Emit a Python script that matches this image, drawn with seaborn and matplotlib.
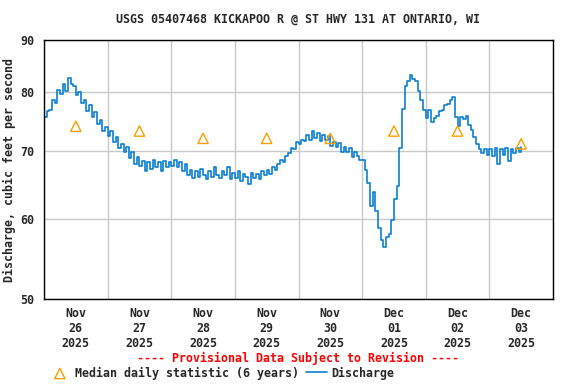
import matplotlib
matplotlib.use("Agg")
import matplotlib.pyplot as plt
import matplotlib.dates as mdates
import seaborn as sns
import pandas as pd

# hourly discharge, cfs, starting 2025-11-26 00:00
q_nov26 = [75.5, 76.6, 76.8, 78.6, 78.0, 80.4, 79.6, 81.4, 80.2, 82.6, 81.4, 81.0,
           79.4, 80.0, 78.0, 78.6, 76.6, 77.6, 75.6, 76.4, 74.4, 75.0, 73.2, 73.8]
q_nov27 = [72.4, 73.2, 71.4, 72.2, 70.4, 71.0, 69.8, 70.6, 68.8, 69.8, 68.0, 69.0,
           67.6, 68.4, 66.8, 68.2, 67.2, 68.6, 67.4, 68.2, 66.9, 68.4, 67.5, 68.2]
q_nov28 = [67.6, 68.6, 67.4, 68.2, 66.8, 68.0, 66.2, 67.0, 65.8, 66.8, 66.0, 67.2,
           66.2, 65.6, 66.8, 66.0, 67.4, 66.2, 65.8, 66.8, 66.2, 67.4, 65.6, 66.6]
q_nov29 = [65.8, 66.8, 65.4, 66.4, 66.0, 64.9, 66.6, 65.8, 66.4, 65.6, 66.8, 66.2,
           67.0, 66.4, 67.4, 67.0, 68.0, 68.6, 68.2, 69.2, 69.6, 70.4, 70.2, 71.4]
q_nov30 = [71.0, 71.8, 71.6, 72.6, 71.8, 73.2, 72.0, 72.8, 71.6, 72.6, 71.8, 72.4,
           70.8, 71.4, 70.6, 71.2, 69.8, 70.6, 69.8, 70.4, 69.0, 69.8, 69.2, 68.6]
q_dec01 = [68.5, 67.0, 65.0, 61.8, 63.8, 61.0, 58.8, 57.2, 56.3, 57.6, 58.0, 59.8,
           62.8, 64.6, 70.5, 77.0, 81.0, 82.0, 83.2, 82.4, 82.0, 80.2, 78.6, 76.8]
q_dec02 = [75.4, 76.8, 74.8, 75.4, 75.8, 76.6, 76.8, 77.6, 77.8, 78.6, 79.0, 75.6,
           74.0, 75.6, 75.2, 75.8, 74.2, 73.4, 72.2, 71.0, 70.2, 69.6, 70.2, 69.4]
q_dec03 = [70.2, 69.2, 70.4, 68.0, 70.2, 69.4, 70.4, 68.4, 70.2, 69.6, 70.4, 69.8, 70.6]

median_days = ["2025-11-26", "2025-11-27", "2025-11-28", "2025-11-29",
               "2025-11-30", "2025-12-01", "2025-12-02", "2025-12-03"]
median_vals = [74.0, 73.2, 72.0, 72.0, 72.0, 73.2, 73.2, 71.1]

q = q_nov26 + q_nov27 + q_nov28 + q_nov29 + q_nov30 + q_dec01 + q_dec02 + q_dec03
df = pd.DataFrame({"time": pd.date_range("2025-11-26 00:00", periods=len(q), freq="h"),
                   "q": q})
med = pd.DataFrame({"time": pd.to_datetime(median_days) + pd.Timedelta(hours=12),
                    "q": median_vals})

sns.set_style("white")
plt.rcParams["font.family"] = ["DejaVu Sans Mono"]
plt.rcParams["font.weight"] = "bold"

fig = plt.figure(figsize=(5.76, 3.84), dpi=100)
ax = fig.add_axes([44/576, 1-299/384, 509/576, 259/384])

blue = "#0A7FD2"
orange = "#F5A000"
fs = 8.4

sns.lineplot(data=df, x="time", y="q", ax=ax, color=blue, lw=1.2,
             drawstyle="steps-post", label="Discharge")
sns.scatterplot(data=med, x="time", y="q", ax=ax, marker="^", s=55,
                color=orange, edgecolor=orange, linewidth=1.0, zorder=5,
                label="Median daily statistic (6 years)")
for c in ax.collections:
    c.set_facecolor("none")
    c.set_edgecolor(orange)

ax.set_yscale("log")
ax.set_ylim(50, 90)
ax.set_yticks([50, 60, 70, 80, 90])
ax.set_yticklabels(["50", "60", "70", "80", "90"], fontweight="bold")
ax.yaxis.set_minor_locator(matplotlib.ticker.NullLocator())
ax.set_xlim(pd.Timestamp("2025-11-26"), pd.Timestamp("2025-12-04"))

ax.xaxis.set_major_locator(mdates.HourLocator(byhour=[12]))
ax.xaxis.set_major_formatter(mdates.DateFormatter("%b\n%d\n%Y"))
ax.xaxis.set_minor_locator(mdates.DayLocator())
ax.grid(False)
ax.grid(which="minor", axis="x", color="#C8C8C8", lw=1)
ax.grid(which="major", axis="y", color="#C8C8C8", lw=1)
ax.tick_params(which="both", length=0, labelsize=fs)
ax.tick_params(axis="y", pad=7)
ax.tick_params(axis="x", pad=6)
for lab in ax.get_xticklabels():
    lab.set_linespacing(1.2)
    lab.set_fontweight("bold")
for s in ax.spines.values():
    s.set_color("black")
    s.set_linewidth(1)

ax.set_xlabel("")
ax.set_ylabel("Discharge, cubic feet per second", fontsize=fs, fontweight="bold",
              labelpad=3)

fig.text(298/576, 1-19/384, "USGS 05407468 KICKAPOO R @ ST HWY 131 AT ONTARIO, WI",
         ha="center", va="center", fontsize=fs, fontweight="bold")
fig.text(298/576, 1-358/384, "---- Provisional Data Subject to Revision ----",
         ha="center", va="center", fontsize=fs, color="red", fontweight="bold")

handles, labels = ax.get_legend_handles_labels()
ax.get_legend().remove()
order = [labels.index("Median daily statistic (6 years)"), labels.index("Discharge")]
leg = fig.legend([handles[i] for i in order], [labels[i] for i in order],
                 loc="center", bbox_to_anchor=(222/576, 1-373/384), ncol=2,
                 frameon=False, prop={"size": fs, "weight": "bold"},
                 handlelength=1.8, handletextpad=0.4, columnspacing=0.6, borderpad=0)

fig.savefig("out.png", dpi=100)
